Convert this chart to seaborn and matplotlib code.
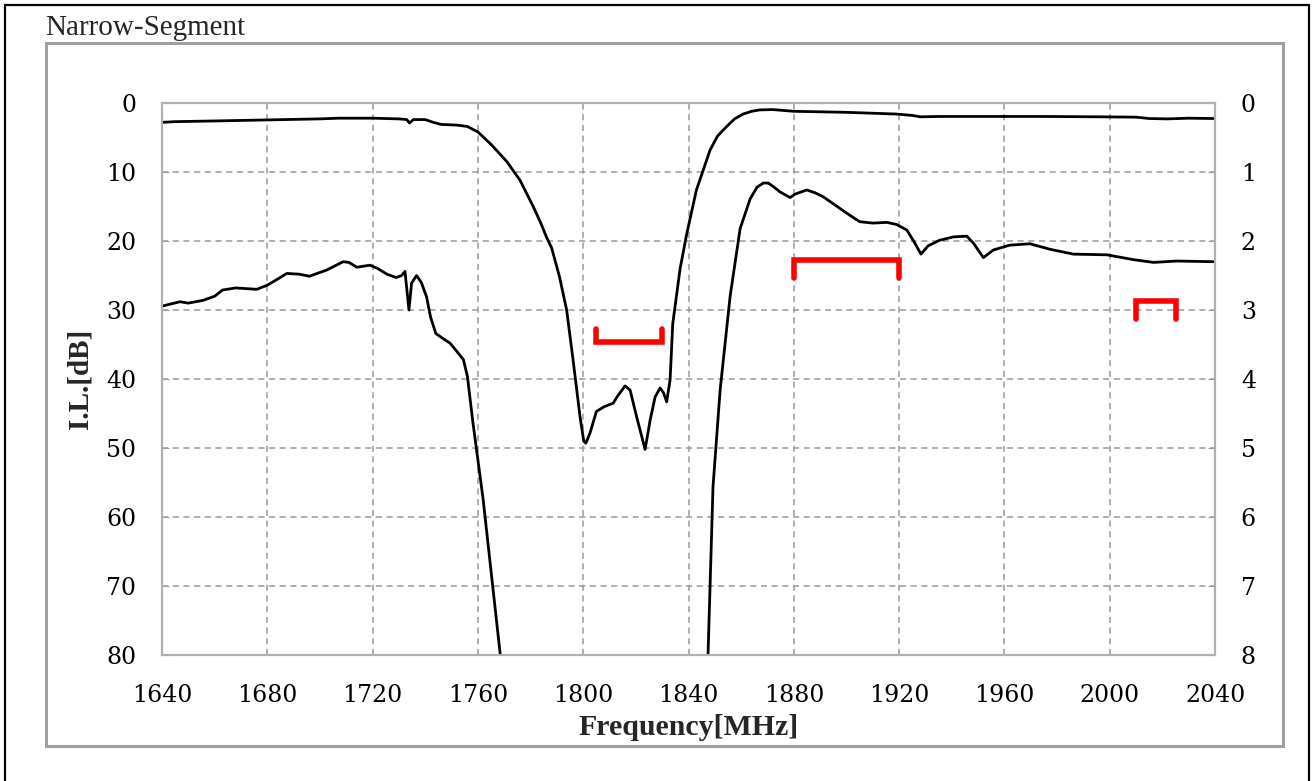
import numpy as np
import pandas as pd
import matplotlib
matplotlib.use("Agg")
import matplotlib.pyplot as plt
from matplotlib.patches import Rectangle
import seaborn as sns

sns.set_style("white")
plt.rcParams['font.family'] = ['DejaVu Serif']

# wide range insertion loss, read on the left axis [dB]
wide_freq = [1640, 1645, 1660, 1680, 1700, 1707, 1720, 1730, 1733, 1734, 1735.5,
             1740, 1743, 1746, 1752, 1756, 1760, 1765, 1771, 1776, 1781, 1784,
             1786, 1788, 1791, 1793.7, 1796, 1798.8, 1800.2, 1801, 1802.6, 1805,
             1808, 1811.4, 1813, 1815.9, 1817.8, 1820.3, 1823.5, 1825.4, 1827.3,
             1829.2, 1830.5, 1831.7, 1833, 1834, 1836.8, 1839.3, 1843, 1848.2,
             1851, 1854.5, 1857.5, 1860.7, 1864, 1867, 1872, 1880, 1900, 1919,
             1925, 1928, 1935, 1950, 1975, 1996, 2010, 2015, 2022, 2030, 2040]
wide_il = [2.8, 2.7, 2.6, 2.45, 2.3, 2.2, 2.2, 2.3, 2.4, 2.9, 2.4,
           2.4, 2.8, 3.1, 3.2, 3.4, 4.2, 6.0, 8.5, 11.2, 15.0, 17.5,
           19.4, 21.0, 25.2, 30.0, 36.8, 45.5, 49.0, 49.3, 47.8, 44.7,
           44.0, 43.5, 42.5, 41.0, 41.6, 45.5, 50.2, 46.0, 42.6,
           41.3, 42.0, 43.3, 40.1, 32.0, 24.0, 19.0, 12.6, 6.8,
           4.8, 3.4, 2.3, 1.6, 1.2, 1.0, 0.95, 1.2, 1.35, 1.6,
           1.8, 2.0, 1.95, 1.95, 1.95, 2.0, 2.05, 2.25, 2.3, 2.2, 2.25]

# passband detail, read on the right axis [dB]
zoom_freq = [1640.4, 1646.8, 1650, 1655.6, 1660, 1663, 1668, 1672, 1676, 1680,
             1684, 1687.4, 1692, 1696, 1702.6, 1708.8, 1711, 1714, 1719, 1722,
             1725.4, 1729, 1731, 1732.3, 1733.8, 1734.8, 1736.7, 1738.5, 1740.5,
             1742, 1744, 1747, 1749.4, 1752, 1754.5, 1756, 1758, 1762, 1768.5,
             1770, 1846, 1847.4, 1849.3, 1852, 1855.8, 1859.6, 1863.4, 1866,
             1868.4, 1870.3, 1872.5, 1874.8, 1878.6, 1880.5, 1884.9, 1888,
             1891.2, 1897.6, 1901, 1905, 1910, 1915.3, 1919, 1922.9, 1925.5,
             1928.3, 1931, 1935.3, 1940.6, 1945.7, 1948.2, 1952, 1955.8, 1962,
             1969.7, 1977.3, 1986.2, 1998.9, 2009, 2016.6, 2025.4, 2039.4]
zoom_il = [2.94, 2.88, 2.9, 2.86, 2.8, 2.71, 2.68, 2.69, 2.7, 2.64,
           2.55, 2.47, 2.48, 2.51, 2.42, 2.30, 2.31, 2.38, 2.35, 2.40,
           2.48, 2.53, 2.50, 2.44, 3.0, 2.61, 2.50, 2.60, 2.81,
           3.1, 3.34, 3.42, 3.48, 3.6, 3.72, 3.96, 4.6, 5.75, 8.0,
           8.4, 8.4, 8.0, 5.56, 4.16, 2.8, 1.82, 1.39, 1.22,
           1.16, 1.16, 1.22, 1.29, 1.37, 1.32, 1.26, 1.3,
           1.36, 1.53, 1.62, 1.72, 1.74, 1.73, 1.76, 1.84, 2.0,
           2.19, 2.07, 1.99, 1.94, 1.93, 2.03, 2.24, 2.13, 2.06,
           2.04, 2.12, 2.19, 2.20, 2.27, 2.31, 2.29, 2.30]

# spec brackets (left axis, dB)
mask_lo = [1805, 1880, 2010]
mask_hi = [1830, 1920, 2025]
mask_level = [34.7, 22.8, 28.7]
mask_end = [32.8, 25.4, 31.3]

wide_df = pd.DataFrame({"Frequency": wide_freq, "IL": wide_il})
zoom_df = pd.DataFrame({"Frequency": zoom_freq, "IL": zoom_il})

fig = plt.figure(figsize=(13.16, 7.81), dpi=100)
fig.subplots_adjust(left=0.1231, right=0.9233, bottom=0.1613, top=0.8681)
ax = fig.add_subplot(111)
ax2 = ax.twinx()

sns.lineplot(data=wide_df, x="Frequency", y="IL", ax=ax, color="black",
             linewidth=2.0, estimator=None)
sns.lineplot(data=zoom_df, x="Frequency", y="IL", ax=ax2, color="black",
             linewidth=2.0, estimator=None)

for lo, hi, lev, end in zip(mask_lo, mask_hi, mask_level, mask_end):
    ax.plot([lo, lo, hi, hi], [end, lev, lev, end], color="#ff0000",
            linewidth=4.0, solid_capstyle="round", solid_joinstyle="miter",
            zorder=5)

ax.set_xlim(1640, 2040)
ax.set_ylim(80, 0)
ax2.set_ylim(8, 0)
ax.set_xticks(np.arange(1640, 2041, 40))
ax.set_yticks(np.arange(0, 81, 10))
ax2.set_yticks(np.arange(0, 9, 1))

ax.grid(True, color="#9a9a9a", linestyle=(0, (4, 3)), linewidth=1.1)
ax2.grid(False)
ax.set_axisbelow(True)

for a in (ax, ax2):
    for sp in a.spines.values():
        sp.set_color("#b0b0b0")
        sp.set_linewidth(1.5)
ax.tick_params(axis="both", which="both", direction="in", length=5,
               color="#a0a0a0", labelsize=17, labelcolor="black")
ax.tick_params(axis="x", pad=21)
ax.tick_params(axis="y", pad=18.5)
ax2.tick_params(axis="y", direction="in", length=5, color="#a0a0a0",
                labelsize=17, labelcolor="black", pad=18.5)

ax.set_xlabel("Frequency[MHz]", fontsize=21.5, fontweight="bold",
              family=["Liberation Serif"], labelpad=5)
ax.set_ylabel("I.L.[dB]", fontsize=21, fontweight="bold",
              family=["Liberation Serif"], labelpad=9)
ax2.set_ylabel("")

# frames around the picture
fig.add_artist(Rectangle((5 / 1316, -0.01), 1304 / 1316, (776 / 781) + 0.01,
                         transform=fig.transFigure, fill=False,
                         edgecolor="black", linewidth=1.6))
fig.add_artist(Rectangle((46 / 1316, 35 / 781), 1237 / 1316, 703 / 781,
                         transform=fig.transFigure, fill=False,
                         edgecolor="#a0a0a0", linewidth=2.2))
fig.text(45 / 1316, 1 - 35 / 781, "Narrow-Segment", fontsize=21,
         family=["Liberation Serif"], va="baseline", ha="left")

fig.savefig("out.png", dpi=100)
